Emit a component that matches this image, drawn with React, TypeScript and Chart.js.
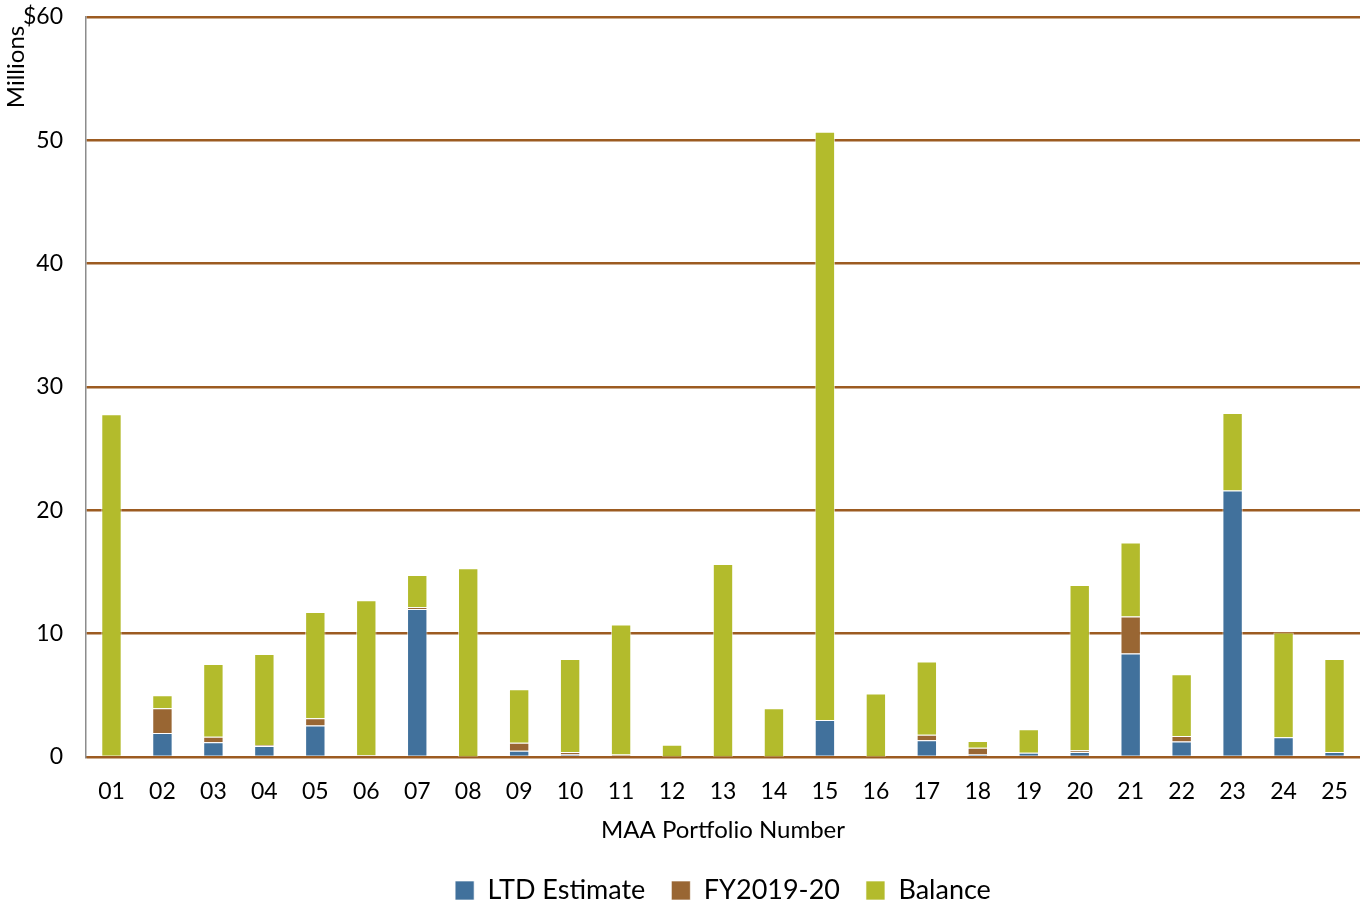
import React, { useEffect, useRef } from "react";
import { Chart, registerables } from "chart.js";

Chart.register(...registerables);

// Portfolio numbers along the x axis
const portfolios = [
  "01", "02", "03", "04", "05", "06", "07", "08", "09", "10",
  "11", "12", "13", "14", "15", "16", "17", "18", "19", "20",
  "21", "22", "23", "24", "25",
];

// Values in millions of dollars, stacked bottom to top
const ltdEstimate = [
  0, 1.95, 1.2, 0.9, 2.55, 0, 12.0, 0, 0.5, 0.2,
  0, 0, 0, 0, 3.0, 0, 1.35, 0.2, 0.35, 0.4,
  8.4, 1.25, 21.6, 1.6, 0.4,
];
const fy2019_20 = [
  0, 2.0, 0.45, 0.05, 0.6, 0.15, 0.15, 0.05, 0.65, 0.2,
  0.2, 0.05, 0.05, 0.05, 0, 0.05, 0.45, 0.55, 0, 0.15,
  3.0, 0.45, 0, 0, 0,
];
const balance = [
  27.8, 1.05, 5.9, 7.4, 8.6, 12.55, 2.6, 15.25, 4.35, 7.55,
  10.55, 0.95, 15.6, 3.9, 47.7, 5.1, 5.95, 0.55, 1.9, 13.4,
  6.0, 5.0, 6.3, 8.5, 7.55,
];

const yTicks = [0, 10, 20, 30, 40, 50, 60];

const FONT = "Lato, 'Open Sans', sans-serif";
const GRID_BROWN = "#9C5B21";

// Rotated unit caption beside the top of the value axis
const millionsTitle = {
  id: "millionsTitle",
  afterDraw(chart: any) {
    const ctx = chart.ctx;
    ctx.save();
    ctx.translate(16, 67);
    ctx.rotate(-Math.PI / 2);
    ctx.textAlign = "center";
    ctx.textBaseline = "middle";
    ctx.fillStyle = "#000";
    ctx.font = `24px ${FONT}`;
    ctx.fillText("Millions", 0, 0);
    ctx.restore();
  },
};

// Center the legend under the plot area rather than the whole canvas
const legendUnderPlot = {
  id: "legendUnderPlot",
  afterLayout(chart: any) {
    const lg = chart.legend;
    if (!lg) return;
    const shift = (chart.chartArea.left + chart.chartArea.right) / 2 - (lg.left + lg.right) / 2;
    lg.left += shift;
    lg.right += shift;
  },
};

export default function App() {
  const ref = useRef<HTMLCanvasElement | null>(null);

  useEffect(() => {
    if (!ref.current) return;
    const border = "rgba(255,255,255,0.65)";
    const chart = new Chart(ref.current, {
      type: "bar",
      data: {
        labels: portfolios,
        datasets: [
          { label: "LTD Estimate", data: ltdEstimate, backgroundColor: "#41719C", borderColor: border, borderWidth: 1 },
          { label: "FY2019-20", data: fy2019_20, backgroundColor: "#996633", borderColor: border, borderWidth: 1 },
          { label: "Balance", data: balance, backgroundColor: "#B3BB2C", borderColor: border, borderWidth: 1 },
        ],
      },
      options: {
        animation: false,
        responsive: true,
        maintainAspectRatio: false,
        layout: { padding: { top: 17, left: 0, right: 0, bottom: -11 } },
        datasets: { bar: { categoryPercentage: 1, barPercentage: 0.4 } },
        plugins: {
          tooltip: { enabled: false },
          legend: {
            position: "bottom",
            labels: {
              font: { family: FONT, size: 27 },
              color: "#000",
              boxWidth: 19,
              boxHeight: 19,
              padding: 26,
            },
          },
        },
        scales: {
          x: {
            stacked: true,
            grid: { display: false, drawTicks: false },
            border: { display: true, color: GRID_BROWN, width: 2 },
            ticks: { font: { family: FONT, size: 23 }, color: "#000", padding: 21, maxRotation: 0 },
            title: {
              display: true,
              text: "MAA Portfolio Number",
              font: { family: FONT, size: 24 },
              color: "#000",
              padding: { top: 6, bottom: 6 },
            },
            afterFit: (s: any) => {
              s.height = 94;
              s.paddingLeft = 0;
              s.paddingRight = 0;
            },
          },
          y: {
            stacked: true,
            min: 0,
            max: 60,
            afterBuildTicks: (s: any) => { s.ticks = yTicks.map((v) => ({ value: v })); },
            grid: { color: GRID_BROWN, lineWidth: 2.5, drawTicks: false },
            border: { display: true, color: "#8c8c8c", width: 1.5 },
            ticks: {
              font: { family: FONT, size: 23 },
              color: "#000",
              padding: 23,
              callback: (v: any) => (v === 60 ? "$60" : String(v)),
            },
            afterFit: (s: any) => {
              s.width = 86;
              s.paddingTop = 0;
              s.paddingBottom = 0;
            },
          },
        },
      },
      plugins: [millionsTitle, legendUnderPlot],
    });
    return () => chart.destroy();
  }, []);

  return (
    <div style={{ position: "absolute", left: 0, top: 0, width: 1360, height: 903, background: "#fff" }}>
      <canvas ref={ref} />
    </div>
  );
}
